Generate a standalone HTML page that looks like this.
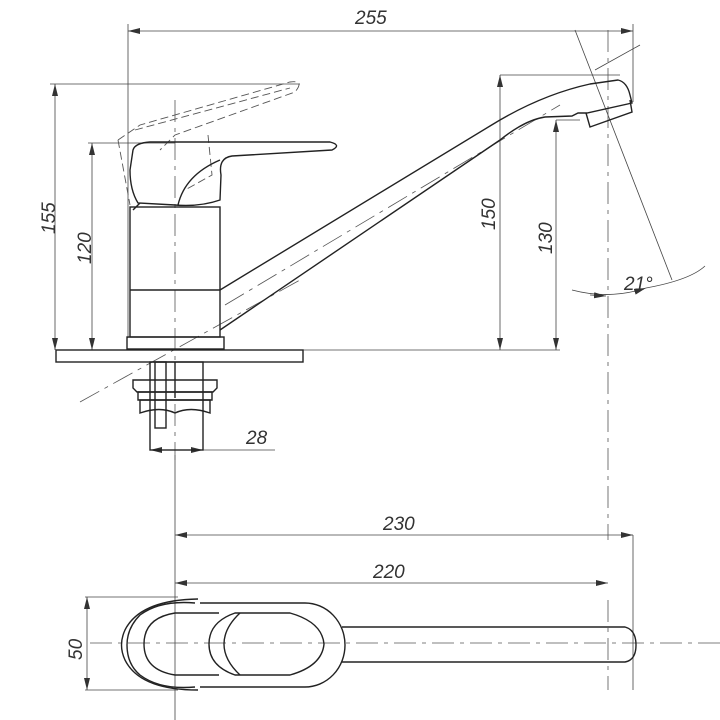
<!DOCTYPE html>
<html><head><meta charset="utf-8"><style>
html,body{margin:0;padding:0;background:#fff;}
svg{display:block;}
text{font-family:"Liberation Sans",sans-serif;font-style:italic;fill:#333;font-size:19px;}
</style></head><body>
<svg width="720" height="720" viewBox="0 0 720 720" xmlns="http://www.w3.org/2000/svg">
<defs>
<marker id="a" viewBox="0 0 12 6" refX="12" refY="3" markerWidth="12" markerHeight="6" orient="auto-start-reverse" markerUnits="userSpaceOnUse"><path d="M0,0 L12,3 L0,6 z" fill="#333"/></marker>
</defs>
<g stroke="#444" stroke-width="0.8" fill="none">
<line x1="128" y1="24" x2="128" y2="338"/>
<line x1="633" y1="24" x2="633" y2="102"/>
<line x1="128" y1="31" x2="633" y2="31" marker-start="url(#a)" marker-end="url(#a)"/>
<line x1="50" y1="84" x2="300" y2="84"/>
<line x1="55" y1="84" x2="55" y2="350" marker-start="url(#a)" marker-end="url(#a)"/>
<line x1="88" y1="143" x2="175" y2="143"/>
<line x1="92" y1="143" x2="92" y2="350" marker-start="url(#a)" marker-end="url(#a)"/>
<line x1="500" y1="75" x2="620" y2="75"/>
<line x1="500" y1="75" x2="500" y2="350" marker-start="url(#a)" marker-end="url(#a)"/>
<line x1="556" y1="120" x2="580" y2="120"/>
<line x1="556" y1="120" x2="556" y2="350" marker-start="url(#a)" marker-end="url(#a)"/>
<line x1="303" y1="350" x2="560" y2="350"/>
<line x1="575" y1="30" x2="672" y2="280"/>
<line x1="595" y1="70" x2="640" y2="45"/>
<path d="M572,290 Q610,300 646,288" marker-end="url(#a)"/>
<path d="M705,266 Q690,280 646,288"/>
<line x1="590" y1="295" x2="606" y2="296" marker-end="url(#a)"/>
<line x1="203" y1="450" x2="275" y2="450"/>
<line x1="168" y1="450" x2="150" y2="450" marker-end="url(#a)"/>
<line x1="185" y1="450" x2="203" y2="450" marker-end="url(#a)"/>
<line x1="175" y1="535" x2="633" y2="535" marker-start="url(#a)" marker-end="url(#a)"/>
<line x1="175" y1="583" x2="608" y2="583" marker-start="url(#a)" marker-end="url(#a)"/>
<line x1="633" y1="535" x2="633" y2="690"/>
<line x1="175" y1="455" x2="175" y2="720"/>
<line x1="85" y1="597" x2="178" y2="597"/>
<line x1="85" y1="690" x2="178" y2="690"/>
<line x1="87" y1="597" x2="87" y2="690" marker-start="url(#a)" marker-end="url(#a)"/>
</g>
<g stroke="#555" stroke-width="0.8" fill="none" stroke-dasharray="22,6,4,6">
<line x1="175" y1="100" x2="175" y2="460"/>
<line x1="608" y1="30" x2="608" y2="540"/>
<line x1="608" y1="600" x2="608" y2="690"/>
<line x1="90" y1="643" x2="720" y2="643"/>
<line x1="80" y1="402" x2="300" y2="280"/>
<line x1="225" y1="305" x2="560" y2="105"/>
</g>
<g stroke="#555" stroke-width="0.9" fill="none" stroke-dasharray="8,4">
<path d="M118,140 L140,125 L290,82 Q305,80 295,92 L175,135 L160,150"/>
<path d="M135,130 L290,88"/>
<path d="M118,140 L130,205"/>
<path d="M208,135 L212,175 L185,190"/>
</g>
<g stroke="#222" stroke-width="1.4" fill="none">
<rect x="56" y="350" width="247" height="12"/>
<rect x="130" y="207" width="90" height="130"/>
<line x1="130" y1="290" x2="220" y2="290"/>
<rect x="127" y="337" width="97" height="12"/>
<path d="M133,150 Q135,143 150,142 L330,142 Q342,145 332,150 L232,156 Q218,158 221,175 L220,200 Q200,207 175,205 L138,203 Q130,190 130,170 Z"/>
<path d="M178,205 Q185,175 220,160"/>
<path d="M140,203 L133,210"/>
<path d="M220,290 L490,126 Q540,95 590,84 L618,80 Q627,82 630,95 L632,103 L587,113 L578,113 L572,116 L545,117 Q525,120 500,140 L220,330"/>
<path d="M586,113 L590,127 L632,112 L630,100"/>
<rect x="150" y="362" width="53" height="88"/>
<rect x="155" y="362" width="11" height="66"/>
<path d="M133,380 L217,380 L217,388 L213,392 L137,392 L133,388 Z"/>
<path d="M138,392 L212,392 L212,400 L138,400 Z"/>
<path d="M140,400 L210,400 L210,413 Q190,406 175,413 Q160,406 140,413 Z"/>
<line x1="175" y1="362" x2="175" y2="398"/>
<!-- top view -->
<path d="M342,627 L625,627 Q636,630 636,645 Q636,660 625,662 L342,662"/>
<path d="M200,603 L305,603 A40,42 0 0 1 305,687 L200,687"/>
<path d="M195,603 Q160,600 140,615 Q127,628 127,645 Q127,664 140,675 Q160,690 195,687"/>
<path d="M198,599 Q140,600 125,630 Q118,645 125,660 Q140,690 198,690"/>
<path d="M219,613 L175,613 Q144,618 144,644 Q144,670 175,675 L219,675"/>
<path d="M235,613 L290,613 Q322,622 324,644 Q322,666 290,675 L235,675 Q209,666 209,644 Q209,622 235,613 Z"/>
<path d="M240,613 Q224,628 224,644 Q224,660 240,675"/>
</g>
<text x="355" y="24">255</text>
<text x="383" y="530">230</text>
<text x="373" y="578">220</text>
<text x="246" y="444">28</text>
<text x="624" y="290">21°</text>
<text transform="translate(55,234) rotate(-90)">155</text>
<text transform="translate(91,264) rotate(-90)">120</text>
<text transform="translate(495,230) rotate(-90)">150</text>
<text transform="translate(552,254) rotate(-90)">130</text>
<text transform="translate(82,660) rotate(-90)">50</text>
</svg>
</body></html>
